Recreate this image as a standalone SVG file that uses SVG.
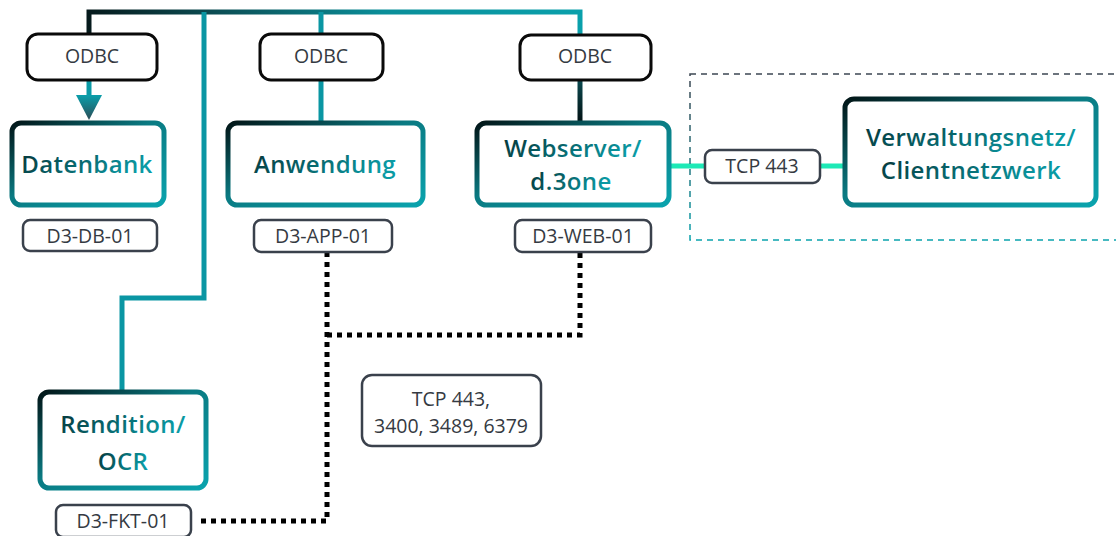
<svg xmlns="http://www.w3.org/2000/svg" width="1116" height="536" viewBox="0 0 1116 536">
<defs>
<linearGradient id="nodeG" x1="0" y1="0" x2="1" y2="1">
<stop offset="0" stop-color="#021618"/>
<stop offset="0.45" stop-color="#0a7a82"/>
<stop offset="1" stop-color="#0aa3ad"/>
</linearGradient>
<linearGradient id="textG" x1="0" y1="0" x2="1" y2="0.3">
<stop offset="0" stop-color="#053438"/>
<stop offset="0.5" stop-color="#07656b"/>
<stop offset="1" stop-color="#0a9aa4"/>
</linearGradient>
<linearGradient id="busG" gradientUnits="userSpaceOnUse" x1="89" y1="0" x2="580" y2="0">
<stop offset="0" stop-color="#061a1c"/>
<stop offset="0.25" stop-color="#0b4c52"/>
<stop offset="0.6" stop-color="#0a8e99"/>
<stop offset="1" stop-color="#0aa0ab"/>
</linearGradient>
<linearGradient id="webV" gradientUnits="userSpaceOnUse" x1="0" y1="80" x2="0" y2="122">
<stop offset="0" stop-color="#0b4a50"/>
<stop offset="1" stop-color="#021214"/>
</linearGradient>
<linearGradient id="arrowG" x1="0" y1="0" x2="0" y2="1">
<stop offset="0" stop-color="#0a9fab"/>
<stop offset="1" stop-color="#2c4c56"/>
</linearGradient>
<linearGradient id="dashG" gradientUnits="userSpaceOnUse" x1="0" y1="74" x2="0" y2="240">
<stop offset="0" stop-color="#3c4652"/>
<stop offset="0.5" stop-color="#27707a"/>
<stop offset="1" stop-color="#0aa3ad"/>
</linearGradient>
</defs>
<style>
.node{fill:#fff;stroke:url(#nodeG);stroke-width:5}
.ntext{font-family:"Open Sans","Liberation Sans",sans-serif;font-weight:600;font-size:24px;letter-spacing:0.4px;fill:url(#textG);text-anchor:middle}
.odbc{fill:#fff;stroke:#0a0a0a;stroke-width:3}
.lbl{fill:#fff;stroke:#3a414c;stroke-width:2.5}
.ltext{font-family:"Open Sans","Liberation Sans",sans-serif;font-size:19.5px;fill:#353a42;text-anchor:middle}
.conn{fill:none;stroke-width:5}
.dot{fill:none;stroke:#000;stroke-width:5;stroke-dasharray:5 5}
</style>
<rect width="1116" height="536" fill="#fff"/>
<g id="connectors">
<path class="conn" d="M89,35 V12 H580 V35" stroke="url(#busG)"/>
<path class="conn" d="M321,12 V122" stroke="#0a96a3"/>
<path class="conn" d="M204,12 V298 H122 V390" stroke="#0a96a3"/>
<path class="conn" d="M89,80 V97" stroke="#0a9aa6"/>
<path d="M76,95 H102 L89,120 Z" fill="url(#arrowG)"/>
<path class="conn" d="M580,80 V122" stroke="url(#webV)"/>
<path class="conn" d="M670,166 H843" stroke="#1de9b6"/>
<path class="dot" d="M327,252 V521 H196"/>
<path class="dot" d="M327,335 H580 V252"/>
</g>
<g id="zone">
<rect x="690" y="74" width="440" height="166" fill="none" stroke="url(#dashG)" stroke-width="1.5" stroke-dasharray="6 5"/>
</g>
<g id="odbc1"><rect class="odbc" x="27" y="34" width="130" height="46" rx="11"/><text class="ltext" x="92" y="63">ODBC</text></g>
<g id="odbc2"><rect class="odbc" x="260" y="34" width="123" height="46" rx="11"/><text class="ltext" x="321" y="63">ODBC</text></g>
<g id="odbc3"><rect class="odbc" x="520" y="35" width="131" height="45" rx="11"/><text class="ltext" x="585" y="63">ODBC</text></g>
<g id="datenbank"><rect class="node" x="12" y="123" width="152" height="82" rx="9"/><text class="ntext" x="87" y="173">Datenbank</text></g>
<g id="anwendung"><rect class="node" x="228" y="123" width="195" height="82" rx="9"/><text class="ntext" x="325" y="173">Anwendung</text></g>
<g id="webserver"><rect class="node" x="477" y="123" width="192" height="82" rx="9"/><text class="ntext" x="573" y="157">Webserver/</text><text class="ntext" x="571" y="190">d.3one</text></g>
<g id="verwaltungsnetz"><rect class="node" x="845" y="99" width="251" height="106" rx="9"/><text class="ntext" x="971" y="146">Verwaltungsnetz/</text><text class="ntext" x="971" y="179">Clientnetzwerk</text></g>
<g id="rendition"><rect class="node" x="40" y="392" width="166" height="96" rx="9"/><text class="ntext" x="123" y="433">Rendition/</text><text class="ntext" x="123" y="470">OCR</text></g>
<g id="lbl-db"><rect class="lbl" x="23" y="220" width="134" height="31" rx="7"/><text class="ltext" x="90" y="243">D3-DB-01</text></g>
<g id="lbl-app"><rect class="lbl" x="254" y="220" width="138" height="32" rx="7"/><text class="ltext" x="323" y="243">D3-APP-01</text></g>
<g id="lbl-web"><rect class="lbl" x="515" y="220" width="136" height="32" rx="7"/><text class="ltext" x="583" y="243">D3-WEB-01</text></g>
<g id="lbl-fkt"><rect class="lbl" x="56" y="505" width="135" height="32" rx="7"/><text class="ltext" x="123" y="528">D3-FKT-01</text></g>
<g id="lbl-tcp"><rect class="lbl" x="705" y="150" width="115" height="33" rx="7"/><text class="ltext" x="762" y="173">TCP 443</text></g>
<g id="lbl-ports"><rect class="lbl" x="362" y="375" width="179" height="71" rx="10"/><text class="ltext" x="451" y="406">TCP 443,</text><text class="ltext" x="451" y="433">3400, 3489, 6379</text></g>
</svg>
